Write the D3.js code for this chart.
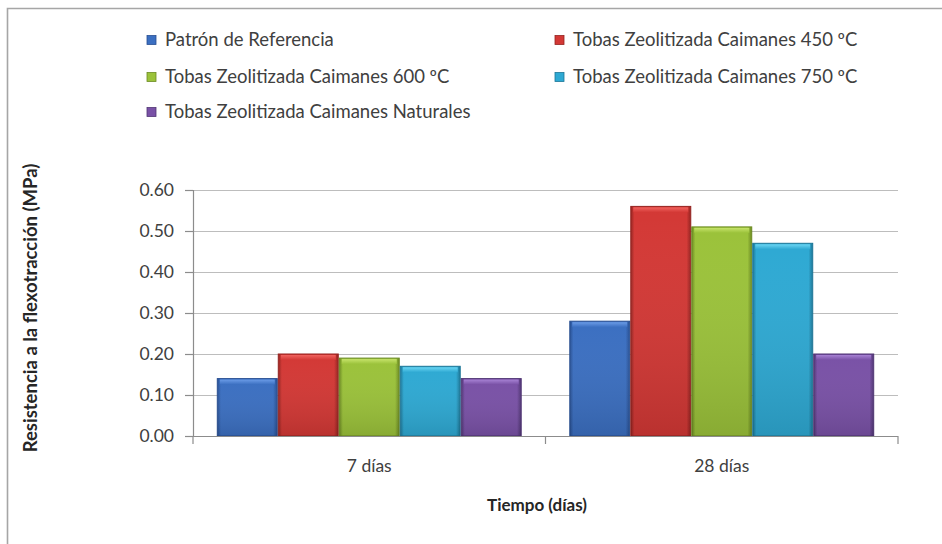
<!DOCTYPE html>
<html>
<head>
<meta charset="utf-8">
<script src="https://cdn.jsdelivr.net/npm/d3@7"></script>
<style>
  html, body { margin: 0; padding: 0; background: #ffffff; }
  svg { display: block; }
  text { font-family: Lato, "Open Sans", sans-serif; }
</style>
</head>
<body>
<svg id="chart" width="942" height="544"></svg>
<script>
// Categories on the x axis
const categories = ["7 días", "28 días"];

// Series (one value per category)
const seriesNames = [
  "Patrón de Referencia",
  "Tobas Zeolitizada Caimanes 450 ºC",
  "Tobas Zeolitizada Caimanes 600 ºC",
  "Tobas Zeolitizada Caimanes 750 ºC",
  "Tobas Zeolitizada Caimanes Naturales"
];
const patronReferencia = [0.14, 0.28];
const caimanes450 = [0.20, 0.56];
const caimanes600 = [0.19, 0.51];
const caimanes750 = [0.17, 0.47];
const caimanesNaturales = [0.14, 0.20];

// Axis ticks
const yTicks = [0.00, 0.10, 0.20, 0.30, 0.40, 0.50, 0.60];

const yTitle = "Resistencia a la flexotracción (MPa)";
const xTitle = "Tiempo (días)";

// Bar colours: base, light (bevel highlight), dark (edges)
const palette = [
  { base: "#3b6fc1", light: "#6a9be6", dark: "#284f92" },
  { base: "#d33835", light: "#f0625e", dark: "#952320" },
  { base: "#9bc23a", light: "#c6e36a", dark: "#6c8a22" },
  { base: "#2ea9d3", light: "#6bd5f2", dark: "#1c7697" },
  { base: "#7951a6", light: "#a681d3", dark: "#503574" }
];

const seriesValues = [patronReferencia, caimanes450, caimanes600, caimanes750, caimanesNaturales];
const table = categories.map((c, ci) => ({
  category: c,
  bars: seriesNames.map((s, si) => ({ series: s, index: si, value: seriesValues[si][ci] }))
}));

const svg = d3.select("#chart");
const defs = svg.append("defs");

// Horizontal shading per series (darker edges, lighter body)
palette.forEach((p, i) => {
  const g = defs.append("linearGradient").attr("id", "side" + i)
    .attr("x1", "0").attr("x2", "1").attr("y1", "0").attr("y2", "0");
  g.append("stop").attr("offset", "0%").attr("stop-color", p.dark);
  g.append("stop").attr("offset", "6%").attr("stop-color", p.base);
  g.append("stop").attr("offset", "50%").attr("stop-color", p.base);
  g.append("stop").attr("offset", "93%").attr("stop-color", p.base);
  g.append("stop").attr("offset", "100%").attr("stop-color", p.dark);
  const t = defs.append("linearGradient").attr("id", "top" + i)
    .attr("x1", "0").attr("x2", "0").attr("y1", "0").attr("y2", "1");
  t.append("stop").attr("offset", "0%").attr("stop-color", p.light);
  t.append("stop").attr("offset", "100%").attr("stop-color", p.base);
  const b = defs.append("linearGradient").attr("id", "body" + i)
    .attr("x1", "0").attr("x2", "0").attr("y1", "0").attr("y2", "1");
  b.append("stop").attr("offset", "0%").attr("stop-color", "#ffffff").attr("stop-opacity", 0.0);
  b.append("stop").attr("offset", "100%").attr("stop-color", "#000000").attr("stop-opacity", 0.12);
});

// Outer frame
svg.append("path")
  .attr("d", "M7.5,544 L7.5,8.5 L942,8.5")
  .attr("fill", "none").attr("stroke", "#a6a6a6").attr("stroke-width", 1.6);

// Plot geometry
const plot = { left: 193, right: 898, top: 190, bottom: 436 };

const y = d3.scaleLinear().domain([0, 0.6]).range([plot.bottom, plot.top]);
const x0 = d3.scaleBand().domain(categories).range([plot.left, plot.right])
  .paddingInner(0.135).paddingOuter(0.0675);
const x1 = d3.scaleBand().domain(seriesNames).range([0, x0.bandwidth()]).padding(0);

// Gridlines
svg.append("g")
  .selectAll("line").data(yTicks.filter(v => v > 0)).join("line")
  .attr("x1", plot.left).attr("x2", plot.right)
  .attr("y1", d => Math.round(y(d)) + 0.5).attr("y2", d => Math.round(y(d)) + 0.5)
  .attr("stroke", "#bdbdbd").attr("stroke-width", 1.2);

// Y axis
const yAxis = svg.append("g")
  .attr("transform", `translate(${plot.left},0)`)
  .call(d3.axisLeft(y).tickValues(yTicks).tickFormat(d3.format(".2f")).tickSize(8).tickPadding(11));
yAxis.select(".domain").attr("stroke", "#8c8c8c").attr("stroke-width", 1.2);
yAxis.selectAll(".tick line").attr("stroke", "#8c8c8c").attr("stroke-width", 1.2);
yAxis.selectAll(".tick text")
  .attr("fill", "#404040").style("font-size", "17.5px").style("font-family", "Lato, sans-serif");

// Bars
const groups = svg.append("g").selectAll("g").data(table).join("g")
  .attr("transform", d => `translate(${x0(d.category)},0)`);

const bars = groups.selectAll("g.bar").data(d => d.bars).join("g").attr("class", "bar");
bars.append("rect")
  .attr("x", d => x1(d.series) + 0.5)
  .attr("y", d => y(d.value))
  .attr("width", x1.bandwidth() - 1)
  .attr("height", d => y(0) - y(d.value))
  .attr("fill", d => `url(#side${d.index})`)
  .attr("stroke", d => palette[d.index].dark).attr("stroke-width", 1);
bars.append("rect")
  .attr("x", d => x1(d.series) + 0.5)
  .attr("y", d => y(d.value))
  .attr("width", x1.bandwidth() - 1)
  .attr("height", d => y(0) - y(d.value))
  .attr("fill", d => `url(#body${d.index})`);
bars.append("rect")
  .attr("x", d => x1(d.series) + 3)
  .attr("y", d => y(d.value) + 1)
  .attr("width", x1.bandwidth() - 6)
  .attr("height", 5)
  .attr("fill", d => `url(#top${d.index})`);

// X axis
const xAxis = svg.append("g").attr("transform", `translate(0,${plot.bottom})`);
xAxis.append("line")
  .attr("x1", plot.left).attr("x2", plot.right).attr("y1", 0.5).attr("y2", 0.5)
  .attr("stroke", "#8c8c8c").attr("stroke-width", 1.2);
const sepTicks = [plot.left, (x0(categories[0]) + x0.bandwidth() + x0(categories[1])) / 2, plot.right];
xAxis.selectAll("line.tick").data(sepTicks).join("line").attr("class", "tick")
  .attr("x1", d => d).attr("x2", d => d).attr("y1", 0).attr("y2", 8)
  .attr("stroke", "#8c8c8c").attr("stroke-width", 1.2);
xAxis.selectAll("text").data(categories).join("text")
  .attr("x", d => x0(d) + x0.bandwidth() / 2)
  .attr("y", 36)
  .attr("text-anchor", "middle")
  .attr("fill", "#404040").style("font-size", "17.5px")
  .text(d => d);

// Axis titles
svg.append("text")
  .attr("x", 537).attr("y", 511)
  .attr("text-anchor", "middle").attr("fill", "#262626")
  .style("font-size", "17px").style("font-weight", "bold")
  .text(xTitle);
svg.append("text")
  .attr("transform", "translate(37,308) rotate(-90)")
  .attr("text-anchor", "middle").attr("fill", "#262626")
  .style("font-size", "18.5px").style("font-weight", "bold")
  .text(yTitle);

// Legend
const legendPos = [
  { x: 147, y: 40 }, { x: 555, y: 40 },
  { x: 147, y: 77 }, { x: 555, y: 77 },
  { x: 147, y: 112 }
];
const legend = svg.append("g").selectAll("g").data(seriesNames).join("g")
  .attr("transform", (d, i) => `translate(${legendPos[i].x},${legendPos[i].y})`);
legend.append("rect")
  .attr("x", 0).attr("y", -4.5).attr("width", 9).attr("height", 9)
  .attr("fill", (d, i) => palette[i].base)
  .attr("stroke", (d, i) => palette[i].dark).attr("stroke-width", 0.8);
legend.append("text")
  .attr("x", 18).attr("y", 0).attr("dy", "0.35em")
  .attr("fill", "#404040").style("font-size", "18.5px")
  .text(d => d);
</script>
</body>
</html>
